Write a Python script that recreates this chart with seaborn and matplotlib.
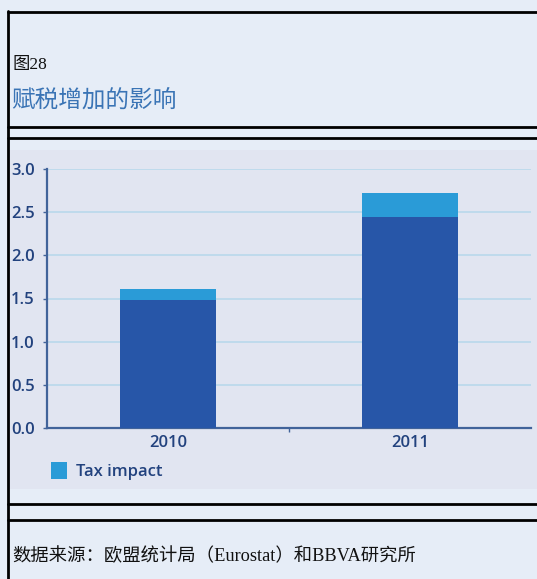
import matplotlib
matplotlib.use("Agg")
import matplotlib.pyplot as plt
import seaborn as sns
import pandas as pd
from matplotlib.lines import Line2D
from matplotlib.patches import Rectangle, Patch

# ---- data ----
years = ["2010", "2011"]
base_values = [1.48, 2.44]
tax_impact = [0.13, 0.28]
y_ticks = [0.0, 0.5, 1.0, 1.5, 2.0, 2.5, 3.0]
y_tick_labels = ["0.0", "0.5", "1.0", "1.5", "2.0", "2.5", "3.0"]
fig_label = "图28"
title = "赋税增加的影响"
legend_label = "Tax impact"
source = "数据来源：欧盟统计局（Eurostat）和BBVA研究所"

totals = [b + t for b, t in zip(base_values, tax_impact)]
df = pd.DataFrame({"year": years, "base": base_values, "total": totals})

sns.set_theme(style="white")
plt.rcParams["font.family"] = ["Open Sans", "DejaVu Sans"]

W, H = 537, 579
page_bg = "#e6edf7"
chart_bg = "#e1e5f1"
dark = "#2756a8"
light = "#2a9bd7"
navy = "#22427e"
grid_c = "#bcd9ec"
spine_c = "#41639a"

fig = plt.figure(figsize=(W / 100, H / 100), dpi=100)
fig.patch.set_facecolor(page_bg)

def fx(px):
    return px / W

def fy(py):
    return 1 - py / H

# chart image background
fig.add_artist(Rectangle((fx(9), fy(489)), fx(537) - fx(9), fy(150) - fy(489),
                         transform=fig.transFigure, facecolor=chart_bg,
                         edgecolor="none", zorder=0))

# table borders
def hline(py, x0=8, x1=537):
    fig.add_artist(Line2D([fx(x0), fx(x1)], [fy(py), fy(py)],
                          transform=fig.transFigure, color="black", lw=2.0))

for py in [12, 127, 138, 504, 520]:
    hline(py)
fig.add_artist(Line2D([fx(8), fx(8)], [fy(11), fy(579)],
                      transform=fig.transFigure, color="black", lw=2.0))

# texts
serif_cjk = ["Liberation Serif", "Noto Sans CJK SC"]
fig.text(fx(12), fy(65), fig_label, family=serif_cjk, fontsize=12.5,
         color="#111111", va="center", ha="left")
fig.text(fx(11), fy(100), title, family=["Noto Sans CJK SC"], fontsize=17,
         color="#3a74b5", va="center", ha="left")
fig.text(fx(12), fy(556), source, family=serif_cjk, fontsize=13.2,
         color="#111111", va="center", ha="left")

# axes
ax = fig.add_axes([fx(47), fy(428), fx(531) - fx(47), fy(169) - fy(428)])
ax.set_facecolor("none")
sns.barplot(data=df, x="year", y="total", color=light, width=0.4,
            saturation=1, ax=ax, zorder=3, order=years, linewidth=0)
sns.barplot(data=df, x="year", y="base", color=dark, width=0.4,
            saturation=1, ax=ax, zorder=4, order=years, linewidth=0)

ax.set_xlim(-0.5, 1.5)
ax.set_ylim(0, 3.0)
ax.set_yticks(y_ticks)
ax.set_yticklabels(y_tick_labels)
ax.set_xlabel("")
ax.set_ylabel("")
ax.yaxis.grid(True, color=grid_c, lw=1.3, zorder=0)
ax.set_axisbelow(True)
for s in ["top", "right"]:
    ax.spines[s].set_visible(False)
for s in ["left", "bottom"]:
    ax.spines[s].set_color(spine_c)
    ax.spines[s].set_linewidth(1.6)
ax.tick_params(axis="y", length=3, width=1, color=spine_c, pad=6,
               labelsize=12, labelcolor=navy, left=True)
ax.tick_params(axis="x", length=0, pad=5, labelsize=12, labelcolor=navy)
for lab in ax.get_xticklabels() + ax.get_yticklabels():
    lab.set_fontweight("semibold")
ax.set_xticks([0.5], minor=True)
ax.tick_params(axis="x", which="minor", length=3, width=1, color=spine_c, bottom=True)

# legend
leg = fig.legend(handles=[Patch(facecolor=light, edgecolor="none")], labels=[legend_label],
                 loc="center left", bbox_to_anchor=(fx(51), fy(471)), frameon=False,
                 handlelength=0.95, handleheight=1.2, handletextpad=0.55,
                 borderpad=0, borderaxespad=0, fontsize=12, labelcolor=navy)
for t in leg.get_texts():
    t.set_fontweight("semibold")

fig.savefig("out.png", dpi=100, facecolor=page_bg)
